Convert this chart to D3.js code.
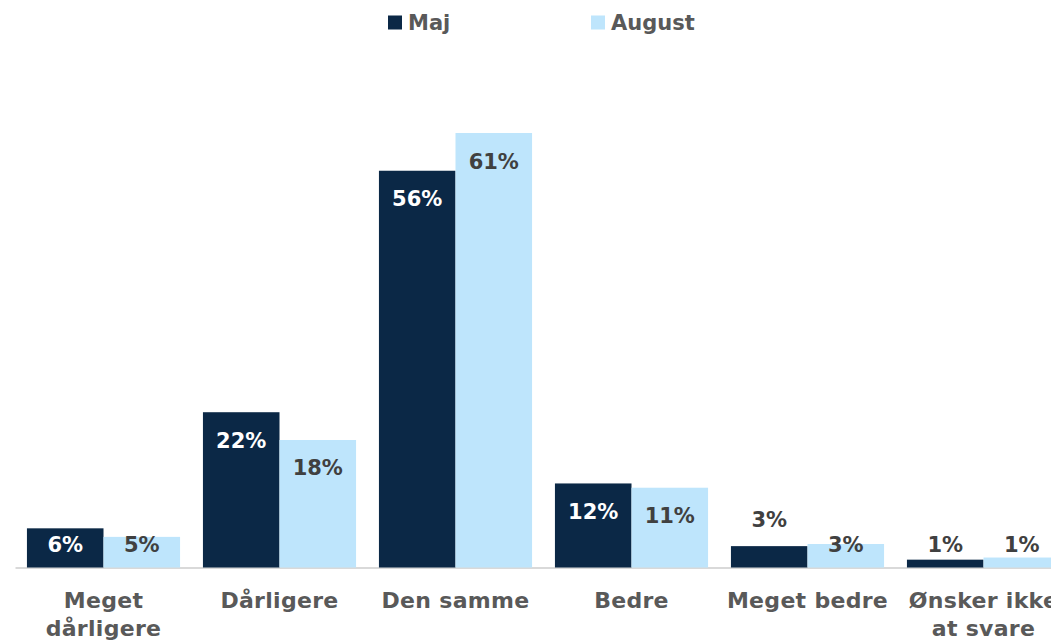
<!DOCTYPE html><html><head><meta charset="utf-8"><script src="https://cdn.jsdelivr.net/npm/d3@7"></script>
<style>body{margin:0;background:#fff}svg{display:block}text{font-family:"DejaVu Sans",sans-serif;font-weight:700}</style></head><body><svg width="1051" height="640"></svg><script>
const categories=["Meget dårligere","Dårligere","Den samme","Bedre","Meget bedre","Ønsker ikke at svare"];
const series=["Maj","August"];
const majValues=[5.5,21.8,55.7,11.8,3.0,1.1];
const augustValues=[4.3,17.9,61.0,11.2,3.3,1.4];
const majLabels=["6%","22%","56%","12%","3%","1%"];
const augustLabels=["5%","18%","61%","11%","3%","1%"];

const colors={Maj:"#0b2846",August:"#bee5fc"};
const labelColors={Maj:"#ffffff",August:"#404040"};
const W=1051,H=640;
const svg=d3.select("svg");
const baseY=567.5, topY=133;
const y=d3.scaleLinear().domain([0,61]).range([baseY,topY]);
const x=d3.scaleBand().domain(categories).range([15.5,1071.5]).paddingInner(0.13).paddingOuter(0.065);
const xs=d3.scaleBand().domain(series).range([0,x.bandwidth()]);
const data=categories.map((c,i)=>({c,vals:[
 {s:"Maj",v:majValues[i],l:majLabels[i]},
 {s:"August",v:augustValues[i],l:augustLabels[i]}]}));

// axis line
svg.append("line").attr("x1",15.5).attr("x2",W+30).attr("y1",baseY+0.5).attr("y2",baseY+0.5)
 .attr("stroke","#d9d9d9").attr("stroke-width",2);

const g=svg.selectAll("g.cat").data(data).join("g").attr("transform",d=>`translate(${x(d.c)},0)`);
g.selectAll("rect").data(d=>d.vals).join("rect")
 .attr("x",d=>xs(d.s)).attr("width",xs.bandwidth())
 .attr("y",d=>y(d.v)).attr("height",d=>baseY-y(d.v)).attr("fill",d=>colors[d.s]);
g.selectAll("text.lbl").data(d=>d.vals).join("text").attr("class","lbl")
 .attr("x",d=>xs(d.s)+xs.bandwidth()/2)
 .attr("text-anchor","middle").style("font-size","21px")
 .each(function(d){
   const h=baseY-y(d.v);
   let yy, col=labelColors[d.s];
   if(d.s==="Maj" && h<23 && h>15){ yy=y(d.v)-19; col="#404040"; }
   else { yy=Math.min(y(d.v)+35.5, baseY-16); }
   if(d.s==="Maj" && h<=15){ col="#404040"; }
   d3.select(this).attr("y",yy).attr("fill",col);
 }).text(d=>d.l);

// category labels with wrapping
const wrapW=166;
g.append("text").attr("class","cat").attr("text-anchor","middle").attr("x",x.bandwidth()/2)
 .attr("fill","#595959").style("font-size","22px").style("letter-spacing","0.3px")
 .each(function(d){
   const t=d3.select(this);
   const words=d.c.split(" ");
   let lines=[],cur=[];
   const probe=t.append("tspan");
   words.forEach(w=>{
     const test=cur.concat([w]).join(" ");
     probe.text(test);
     if(probe.node().getComputedTextLength()>wrapW && cur.length){lines.push(cur.join(" "));cur=[w];}
     else cur.push(w);
   });
   lines.push(cur.join(" "));
   probe.remove();
   lines.forEach((ln,i)=>t.append("tspan").attr("x",x.bandwidth()/2).attr("y",607.5+i*28).text(ln));
 });

// legend
const legendX={Maj:388,August:591};
const lg=svg.selectAll("g.leg").data(series).join("g").attr("transform",d=>`translate(${legendX[d]},0)`);
lg.append("rect").attr("x",0).attr("y",15.5).attr("width",14).attr("height",14).attr("fill",d=>colors[d]);
lg.append("text").attr("x",20).attr("y",30).attr("fill","#595959").style("font-size","21px").text(d=>d);
</script></body></html>
